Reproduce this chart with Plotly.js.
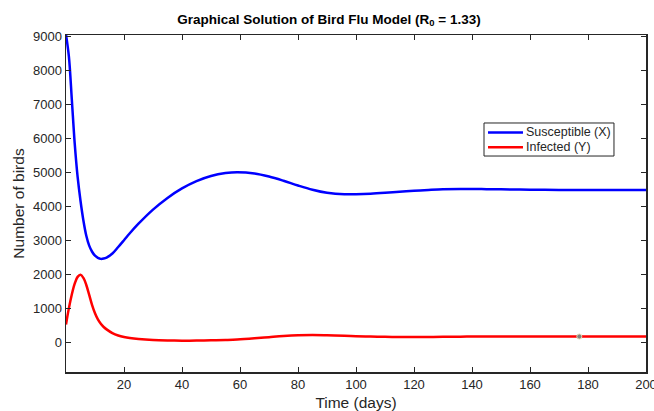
<!DOCTYPE html>
<html>
<head>
<meta charset="utf-8">
<script src="https://cdn.plot.ly/plotly-3.0.1.min.js"></script>
<style>html,body{margin:0;padding:0;background:#fff;}#chart{width:654px;height:411px;}</style>
</head>
<body>
<div id="chart"></div>
<script>
// Time in days
const timeDays = [0,1,2,3,4,5,6,7,8,9,10,11,12,13,14,16,18,20,22,25,30,35,40,45,50,55,59,65,70,75,80,85,90,96,100,105,110,115,120,125,130,136,140,145,150,160,170,180,190,200];
// Susceptible birds X(t)
const susceptibleX = [9050,8400,7150,5850,4870,4160,3580,3130,2840,2660,2545,2480,2450,2460,2490,2610,2800,3000,3205,3485,3900,4245,4525,4740,4890,4975,5000,4965,4875,4750,4610,4485,4395,4350,4355,4370,4395,4425,4455,4480,4500,4508,4506,4502,4496,4486,4479,4476,4476,4478];
// Infected birds Y(t)
const infectedY = [520,1000,1400,1720,1920,1980,1890,1680,1390,1090,850,670,540,445,375,265,195,150,120,90,60,47,42,44,52,62,75,110,145,178,200,207,200,186,175,163,155,150,150,152,156,160,163,165,166,166,165,164,163,163];
// Highlighted data point
const markT = [177];
const markY = [164];
// Legend labels
const seriesNames = ['Susceptible (X)', 'Infected (Y)'];
const seriesColors = ['#0000ff', '#ff0000'];

const axisColor = '#262626';
const fontFam = 'Liberation Sans, Arial, Helvetica, sans-serif';

const traces = [
  {x: timeDays, y: susceptibleX, type: 'scatter', mode: 'lines', name: seriesNames[0],
   line: {color: seriesColors[0], width: 2.5, shape: 'spline', smoothing: 1}},
  {x: timeDays, y: infectedY, type: 'scatter', mode: 'lines', name: seriesNames[1],
   line: {color: seriesColors[1], width: 2.5, shape: 'spline', smoothing: 1}},
  {x: markT, y: markY, type: 'scatter', mode: 'markers', showlegend: false,
   marker: {color: '#808080', size: 5, line: {color: '#e0d8b0', width: 1}}}
];

// Legend drawn as box + sample lines + labels (paper coordinates)
const legX0 = 0.7207, legX1 = 0.9448, legY0 = 0.6409, legY1 = 0.7389;
const rowY = [0.7107, 0.6668];
const shapes = [
  {type: 'rect', xref: 'paper', yref: 'paper', x0: legX0, x1: legX1, y0: legY0, y1: legY1,
   line: {color: axisColor, width: 1}, fillcolor: '#ffffff', layer: 'above'}
];
const annotations = [];
seriesNames.forEach((nm, i) => {
  shapes.push({type: 'line', xref: 'paper', yref: 'paper', x0: 0.7276, x1: 0.7879, y0: rowY[i], y1: rowY[i],
               line: {color: seriesColors[i], width: 2.5}, layer: 'above'});
  annotations.push({xref: 'paper', yref: 'paper', x: 0.7895, y: rowY[i], xanchor: 'left', yanchor: 'middle',
                    text: nm, showarrow: false, font: {size: 12.5, color: axisColor, family: fontFam}});
});

const layout = {
  width: 654, height: 411,
  margin: {l: 66, r: 8, t: 35, b: 39},
  paper_bgcolor: '#ffffff', plot_bgcolor: '#ffffff',
  font: {family: fontFam, color: axisColor, size: 13},
  title: {text: '<b>Graphical Solution of Bird Flu Model (R<sub>0</sub> = 1.33)</b>',
          x: 0.503, xref: 'container', xanchor: 'center', y: 0.954, yref: 'container', yanchor: 'middle',
          font: {size: 13.5, color: '#000000', family: fontFam}},
  xaxis: {range: [0, 200], tickvals: [20,40,60,80,100,120,140,160,180,200],
          ticks: 'inside', ticklen: 5, tickwidth: 1, tickcolor: axisColor,
          showline: true, linecolor: axisColor, linewidth: 1.5, mirror: 'ticks',
          showgrid: false, zeroline: false, ticklabeloverflow: 'allow',
          tickfont: {size: 13, color: axisColor},
          title: {text: 'Time (days)', font: {size: 15.5, color: axisColor}, standoff: 6}},
  yaxis: {range: [-880, 9040], tickvals: [0,1000,2000,3000,4000,5000,6000,7000,8000,9000],
          ticks: 'inside', ticklen: 5, tickwidth: 1, tickcolor: axisColor,
          showline: true, linecolor: axisColor, linewidth: 1.5, mirror: 'ticks',
          showgrid: false, zeroline: false,
          tickfont: {size: 13, color: axisColor},
          title: {text: 'Number of birds', font: {size: 15.5, color: axisColor}, standoff: 4}},
  showlegend: false,
  shapes: shapes,
  annotations: annotations
};

Plotly.newPlot('chart', traces, layout, {displayModeBar: false, staticPlot: true});
</script>
</body>
</html>
